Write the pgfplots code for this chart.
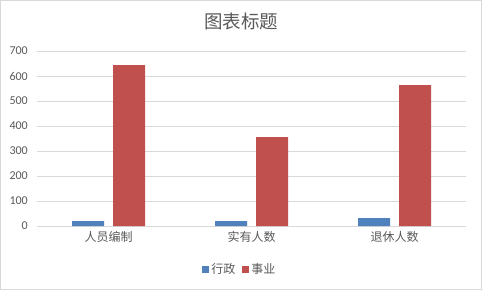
\documentclass[border=0pt]{standalone}
\usepackage{pgfplots}
\pgfplotsset{compat=1.18}
\usepackage{fontspec}
\setmainfont{Carlito}
\newfontfamily\cjk{Noto Sans CJK SC}
\definecolor{txt}{HTML}{595959}
\definecolor{grd}{HTML}{D9D9D9}
\definecolor{blu}{HTML}{4F81BD}
\definecolor{rd}{HTML}{C0504D}
\begin{document}
\begin{tikzpicture}[x=1pt,y=1pt]
\useasboundingbox (0,0) rectangle (482,290);
\fill[white] (0,0) rectangle (482,290);
\draw[grd, line width=1pt] (0.5,0.5) rectangle (481.5,289.5);
\begin{axis}[
  at={(37pt,64pt)}, anchor=south west, scale only axis,
  width=429pt, height=175pt,
  xmin=-0.5, xmax=2.5, ymin=0, ymax=700,
  ytick={0,100,...,700},
  xtick={0,1,2}, xticklabels={人员编制,实有人数,退休人数},
  axis line style={draw=none},
  major tick length=0pt,
  ymajorgrids, grid style={grd, line width=1pt},
  ybar=9pt, bar width=32pt,
  /pgf/number format/assume math mode=true,
  yticklabel style={font=\fontsize{12}{12}\selectfont, text=txt, inner sep=0pt, anchor=east, xshift=-9pt},
  xticklabel style={font=\cjk\fontsize{12}{12}\selectfont, text=txt, inner sep=0pt, anchor=north, yshift=-5pt},
  legend style={at={(0.473,-0.246)}, anchor=center, draw=none, fill=none,
    font=\cjk\fontsize{12}{12}\selectfont, text=txt, legend columns=2,
    /tikz/every even column/.append style={column sep=5pt}},
  legend image code/.code={\fill[#1] (0pt,-3.5pt) rectangle (7pt,3.5pt);},
]
\addplot[fill=blu, draw=none] coordinates {(0,20) (1,20) (2,32)};
\addplot[fill=rd, draw=none] coordinates {(0,644) (1,356) (2,564)};
\legend{行政,事业}
\end{axis}
\node[text=txt, font=\cjk\fontsize{18.5}{18.5}\selectfont] at (241,269) {图表标题};
\end{tikzpicture}
\end{document}
